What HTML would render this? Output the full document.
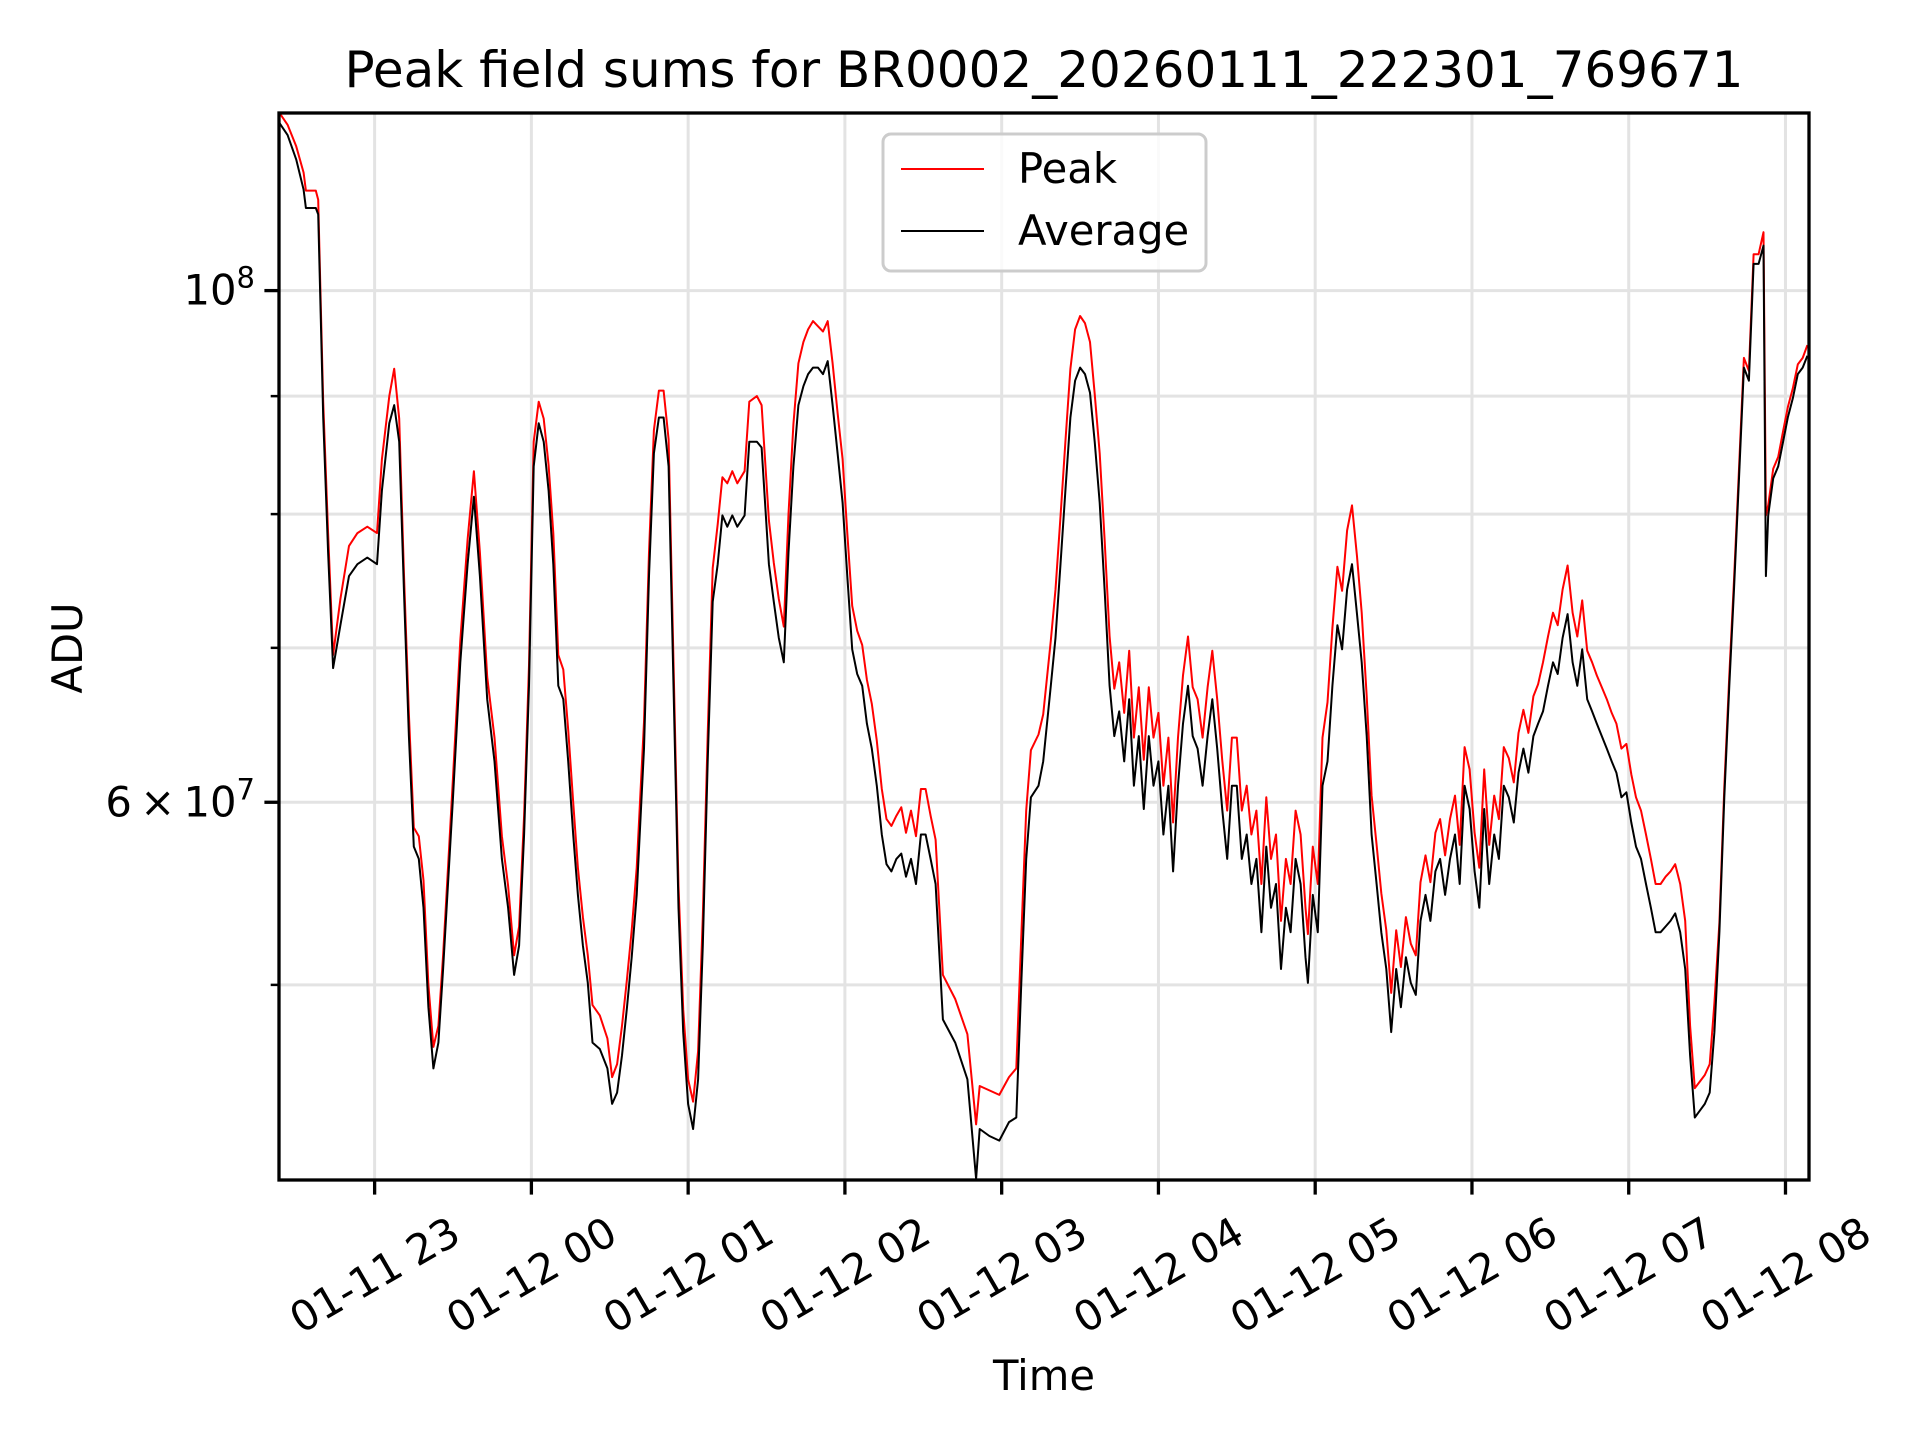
<!DOCTYPE html>
<html><head><meta charset="utf-8"><title>Peak field sums</title>
<style>
html,body{margin:0;padding:0;background:#fff;}
svg{display:block;font-family:"DejaVu Sans","Liberation Sans",sans-serif;}
</style></head>
<body>
<svg id="chart" width="1920" height="1440" viewBox="0 0 1920 1440" xmlns="http://www.w3.org/2000/svg">
<rect x="0" y="0" width="1920" height="1440" fill="#fff"/>
<text x="1044" y="87" text-anchor="middle" font-size="50" fill="#000">Peak field sums for BR0002_20260111_222301_769671</text>
<g id="grid"></g>
<g id="series"></g>
<g id="axes"></g>
<text x="1044" y="1390" text-anchor="middle" font-size="41.7" fill="#000">Time</text>
<text x="0" y="0" transform="translate(82,648) rotate(-90)" text-anchor="middle" font-size="41.7" fill="#000">ADU</text>
<g>
  <rect x="883" y="134" width="323" height="137" rx="8" ry="8" fill="#fff" fill-opacity="0.8" stroke="#cccccc" stroke-width="3"/>
  <line x1="901" y1="169" x2="984" y2="169" stroke="#ff0000" stroke-width="2"/>
  <text x="1018" y="183" font-size="41.7" fill="#000">Peak</text>
  <line x1="901" y1="231" x2="984" y2="231" stroke="#000" stroke-width="2"/>
  <text x="1018" y="245" font-size="41.7" fill="#000">Average</text>
</g>
</svg>
<script>
// minutes since 2026-01-11 22:00
const times = [23.4,26.7,30.0,32.8,33.7,37.5,38.4,39.4,40.3,42.2,
44.1,46.9,50.2,53.4,57.2,60.9,62.8,65.6,67.5,69.4,
71.2,73.1,75.0,76.9,78.7,80.6,82.5,84.4,86.2,88.1,
90.0,92.8,95.6,98.0,100.3,103.1,105.9,108.7,111.1,113.4,
115.3,117.2,119.1,120.9,122.8,124.7,126.6,128.4,130.3,132.2,
134.1,136.0,137.8,139.7,141.6,143.4,146.2,149.1,150.9,152.8,
154.7,156.6,158.4,160.3,163.1,165.0,166.9,168.8,170.6,172.5,
174.4,176.3,178.1,180.0,181.9,183.8,185.6,187.5,189.4,191.3,
193.1,195.0,196.9,198.8,201.6,203.4,206.3,208.1,210.9,212.8,
214.7,216.6,218.4,220.3,222.2,224.1,225.9,227.8,229.7,231.6,
233.4,235.3,237.2,239.1,240.9,242.8,244.7,246.6,248.4,250.3,
252.2,254.1,255.9,257.8,259.7,261.6,263.4,265.3,267.2,269.1,
270.9,272.8,274.7,277.5,282.2,286.9,290.2,291.6,295.3,299.1,
302.8,305.6,307.5,309.4,311.2,314.1,315.9,318.8,320.6,322.5,
324.4,326.3,328.1,330.0,331.9,333.8,335.6,337.5,339.4,341.3,
343.1,345.0,
346.9,348.8,350.6,352.5,354.4,356.3,358.1,360.0,361.9,363.8,
365.6,367.5,369.4,371.3,373.1,375.0,376.9,378.8,380.6,382.5,
384.4,386.3,388.1,390.0,391.9,393.8,395.6,397.5,399.4,401.3,
403.1,405.0,406.9,408.8,410.6,412.5,414.4,416.3,417.2,419.1,
421.0,422.8,424.7,426.6,428.5,430.3,432.2,434.1,436.0,437.8,
439.7,441.6,443.5,445.3,447.2,449.1,451.0,452.8,454.7,456.6,
458.5,460.3,462.2,464.1,466.0,467.8,469.7,471.6,473.5,475.3,
477.2,479.1,481.0,482.8,484.7,486.6,488.5,490.3,492.2,494.1,
496.0,497.8,499.7,501.6,503.5,505.3,507.2,509.1,511.0,512.8,
514.7,516.6,518.5,520.3,522.2,524.1,526.0,527.8,529.7,531.6,
533.5,535.3,537.2,539.1,541.0,542.8,544.7,546.6,548.5,550.3,
552.2,554.1,556.0,557.8,559.7,561.6,563.5,565.3,567.2,569.1,
571.0,572.8,574.7,576.6,578.5,580.3,582.2,584.1,586.0,587.8,
589.7,591.6,592.5,593.4,595.3,597.2,599.1,600.9,602.8,604.7,
606.6,608.4];
// values in units of 1e7 ADU
const averageValues = [11.83,11.68,11.40,11.06,10.86,10.86,10.79,9.72,8.81,7.70,
6.86,7.16,7.52,7.61,7.66,7.61,8.19,8.76,8.92,8.60,
7.42,6.41,5.74,5.67,5.40,4.89,4.60,4.72,5.08,5.53,
6.03,6.90,7.61,8.14,7.52,6.65,6.25,5.67,5.40,5.05,
5.20,5.81,6.74,8.39,8.76,8.60,8.19,7.61,6.74,6.65,
6.25,5.81,5.47,5.20,5.01,4.72,4.69,4.60,4.44,4.49,
4.66,4.89,5.14,5.47,6.33,7.52,8.50,8.81,8.81,8.39,
6.74,5.40,4.77,4.44,4.33,4.55,5.20,6.25,7.33,7.61,
7.99,7.90,7.99,7.90,7.99,8.60,8.60,8.55,7.61,7.33,
7.07,6.90,7.70,8.39,8.92,9.09,9.20,9.26,9.26,9.20,
9.32,8.92,8.50,8.09,7.52,6.99,6.82,6.74,6.49,6.33,
6.10,5.81,5.64,5.60,5.67,5.70,5.57,5.67,5.53,5.81,
5.81,5.67,5.53,4.83,4.72,4.55,4.12,4.33,4.30,4.28,
4.36,4.38,5.01,5.67,6.03,6.10,6.25,6.74,7.07,7.61,
8.19,8.81,9.14,9.26,9.20,9.03,8.60,8.09,7.42,6.74,
6.41,6.57,
6.25,6.65,6.10,6.41,5.96,6.41,6.10,6.25,5.81,6.10,
5.60,6.10,6.49,6.74,6.41,6.33,6.10,6.41,6.65,6.33,
5.96,5.67,6.10,6.10,5.67,5.81,5.53,5.67,5.27,5.74,
5.40,5.53,5.08,5.40,5.27,5.67,5.53,5.14,5.01,5.47,
5.27,6.10,6.25,6.74,7.16,6.99,7.42,7.61,7.24,6.90,
6.41,5.81,5.53,5.27,5.08,4.77,5.08,4.89,5.14,5.01,
4.95,5.33,5.47,5.33,5.60,5.67,5.47,5.67,5.81,5.53,
6.10,5.96,5.60,5.40,5.96,5.53,5.81,5.67,6.10,6.03,
5.88,6.18,6.33,6.18,6.41,6.49,6.57,6.74,6.90,6.82,
7.07,7.24,6.90,6.74,6.99,6.65,6.57,6.49,6.41,6.33,
6.25,6.18,6.03,6.06,5.88,5.74,5.67,5.53,5.40,5.27,
5.27,5.30,5.33,5.37,5.27,5.08,4.66,4.38,4.41,4.44,
4.49,4.77,5.27,6.03,6.74,7.42,8.29,9.26,9.14,10.27,
10.27,10.46,7.52,7.99,8.29,8.39,8.60,8.81,8.98,9.20,
9.26,9.37];
const peakValues = [11.95,11.80,11.55,11.25,11.05,11.05,10.95,9.85,8.95,7.85,
6.95,7.35,7.75,7.85,7.90,7.85,8.45,9.00,9.25,8.80,
7.55,6.55,5.85,5.80,5.55,5.00,4.70,4.80,5.15,5.62,
6.15,7.05,7.80,8.35,7.70,6.80,6.40,5.80,5.52,5.15,
5.30,5.92,6.88,8.60,8.95,8.80,8.40,7.85,6.95,6.85,
6.45,6.00,5.62,5.35,5.15,4.90,4.85,4.74,4.56,4.62,
4.80,5.03,5.28,5.62,6.50,7.70,8.70,9.05,9.05,8.62,
6.90,5.52,4.88,4.55,4.45,4.68,5.35,6.42,7.58,7.92,
8.30,8.25,8.35,8.25,8.35,8.95,9.00,8.92,7.95,7.62,
7.35,7.15,8.00,8.75,9.30,9.50,9.62,9.70,9.65,9.60,
9.70,9.30,8.85,8.45,7.85,7.30,7.12,7.02,6.78,6.62,
6.38,6.08,5.90,5.86,5.92,5.97,5.82,5.95,5.80,6.08,
6.08,5.92,5.78,5.05,4.93,4.76,4.35,4.52,4.50,4.48,
4.56,4.60,5.25,5.95,6.32,6.42,6.55,7.05,7.42,7.98,
8.60,9.25,9.62,9.75,9.68,9.50,9.02,8.50,7.80,7.08,
6.72,6.90,
6.56,6.98,6.40,6.73,6.26,6.73,6.40,6.56,6.10,6.40,
5.88,6.40,6.81,7.08,6.73,6.65,6.40,6.73,6.98,6.65,
6.26,5.95,6.40,6.40,5.95,6.10,5.81,5.95,5.53,6.03,
5.67,5.81,5.33,5.67,5.53,5.95,5.81,5.40,5.26,5.74,
5.53,6.40,6.63,7.14,7.59,7.41,7.87,8.07,7.67,7.25,
6.67,6.04,5.75,5.48,5.28,4.96,5.28,5.09,5.35,5.21,
5.15,5.54,5.69,5.54,5.82,5.90,5.69,5.90,6.04,5.75,
6.34,6.20,5.82,5.62,6.20,5.75,6.04,5.90,6.34,6.27,
6.12,6.43,6.58,6.43,6.67,6.75,6.90,7.08,7.25,7.16,
7.42,7.60,7.25,7.08,7.34,6.98,6.90,6.81,6.73,6.65,
6.56,6.49,6.33,6.36,6.17,6.03,5.95,5.81,5.67,5.53,
5.53,5.57,5.60,5.64,5.53,5.33,4.80,4.51,4.54,4.57,
4.62,4.91,5.32,6.09,6.81,7.49,8.37,9.35,9.23,10.37,
10.37,10.60,7.99,8.07,8.37,8.47,8.69,8.90,9.07,9.29,
9.35,9.47];
const xTickMinutes = [60,120,180,240,300,360,420,480,540,600];
const xTickLabels = ["01-11 23","01-12 00","01-12 01","01-12 02","01-12 03","01-12 04","01-12 05","01-12 06","01-12 07","01-12 08"];
const yMajorTicks = [10, 6];
const yMinorTicks = [5, 7, 8, 9];

const NS = "http://www.w3.org/2000/svg";
const L = 279, R = 1809, T = 113, B = 1180;
const xMin = 23.4, xMax = 609.0;
const yMinV = 4.115, yMaxV = 11.94;
const lmin = Math.log10(yMinV), lmax = Math.log10(yMaxV);
function xs(m){ return L + (m - xMin) / (xMax - xMin) * (R - L); }
function ys(v){ return B - (Math.log10(v) - lmin) / (lmax - lmin) * (B - T); }
function mk(tag, attrs, parent){
  const e = document.createElementNS(NS, tag);
  for (const k in attrs) e.setAttribute(k, attrs[k]);
  parent.appendChild(e);
  return e;
}
const grid = document.getElementById('grid');
const axes = document.getElementById('axes');
const series = document.getElementById('series');

xTickMinutes.forEach((m, i) => {
  const x = xs(m);
  const g = mk('line', {x1:x, y1:T, x2:x, y2:B, stroke:'#e3e3e3', 'stroke-width':3}, grid);
  
  
  const t = mk('line', {x1:x, y1:B, x2:x, y2:B+14.6, stroke:'#000', 'stroke-width':3.3}, axes);
  
  
  const lb = mk('text', {x:0, y:0, transform:'translate(' + x + ',1275) rotate(-30)', 'text-anchor':'middle', 'dominant-baseline':'central', 'font-size':41.7, fill:'#000'}, axes);
  lb.textContent = xTickLabels[i];
  
  
});

yMajorTicks.concat(yMinorTicks).forEach(v => {
  const y = ys(v);
  const g = mk('line', {x1:L, y1:y, x2:R, y2:y, stroke:'#e3e3e3', 'stroke-width':3}, grid);
  
  
});
yMajorTicks.forEach(v => {
  const y = ys(v);
  const t = mk('line', {x1:L-14.6, y1:y, x2:L, y2:y, stroke:'#000', 'stroke-width':3.3}, axes);
  
  
  const lb = mk('text', {x:L-24, y:y+14, 'text-anchor':'end', 'font-size':41.7, fill:'#000'}, axes);
  if (v === 10) {
    lb.innerHTML = '10<tspan font-size="29" dy="-17">8</tspan>';
  } else {
    lb.innerHTML = v + '\u2009\u00d7\u200910<tspan font-size="29" dy="-17">7</tspan>';
  }
  
  
});
yMinorTicks.forEach(v => {
  const y = ys(v);
  const t = mk('line', {x1:L-8.3, y1:y, x2:L, y2:y, stroke:'#000', 'stroke-width':2.5}, axes);
  
  
});
const frame = mk('rect', {x:L, y:T, width:R-L, height:B-T, fill:'none', stroke:'#000', 'stroke-width':3.3}, axes);



function pathFor(vals){
  let d = '';
  for (let i = 0; i < times.length; i++) {
    d += (i ? 'L' : 'M') + xs(times[i]).toFixed(1) + ',' + ys(vals[i]).toFixed(1);
  }
  return d;
}
const clip = mk('clipPath', {id:'plotclip'}, series);
mk('rect', {x:L, y:T, width:R-L, height:B-T}, clip);
const pk = mk('path', {d:pathFor(peakValues), fill:'none', stroke:'#ff0000', 'stroke-width':2, 'stroke-linejoin':'round', 'clip-path':'url(#plotclip)'}, series);


const av = mk('path', {d:pathFor(averageValues), fill:'none', stroke:'#000', 'stroke-width':2, 'stroke-linejoin':'round', 'clip-path':'url(#plotclip)'}, series);


</script>
</body></html>
